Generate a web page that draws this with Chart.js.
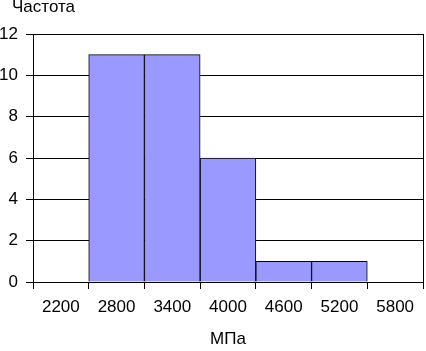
<!DOCTYPE html>
<html>
<head>
<meta charset="utf-8">
<script src="https://cdn.jsdelivr.net/npm/chart.js@4"></script>
<style>
  html, body { margin: 0; padding: 0; background: #fff; }
  #wrap { width: 426px; height: 351px; }
</style>
</head>
<body>
<div id="wrap"><canvas id="hist"></canvas></div>
<script>
const binLabels = ['2200', '2800', '3400', '4000', '4600', '5200', '5800'];
const freqs = [0, 11, 11, 6, 1, 1, 0];
const yTicks = [0, 2, 4, 6, 8, 10, 12];
const yTitle = 'Частота';
const xTitle = 'МПа';

const FONT = 'Liberation Sans, Arial, sans-serif';

// draws "Частота" at the top left and the right border of the plot area
const extras = {
    id: 'extras',
    afterDraw(chart) {
        const c = chart.ctx;
        const a = chart.chartArea;
        c.save();
        c.strokeStyle = '#000';
        c.lineWidth = 1;
        c.beginPath();
        c.moveTo(Math.round(a.right) + 0.5, a.top);
        c.lineTo(Math.round(a.right) + 0.5, a.bottom);
        c.stroke();
        c.fillStyle = '#000';
        c.font = '17px ' + FONT;
        c.textBaseline = 'alphabetic';
        c.fillText(yTitle, 12, 12);
        c.restore();
    }
};

document.addEventListener('DOMContentLoaded', function() {
    const ctx = document.getElementById('hist').getContext('2d');
    new Chart(ctx, {
        type: 'bar',
        data: {
            labels: binLabels,
            datasets: [{
                data: freqs,
                backgroundColor: '#9999FF',
                borderColor: '#000',
                borderWidth: 1,
                barPercentage: 1,
                categoryPercentage: 1
            }]
        },
        options: {
            responsive: true,
            maintainAspectRatio: false,
            animation: false,
            layout: { padding: { top: 34, right: 3, left: 0, bottom: 0 } },
            plugins: { legend: { display: false }, tooltip: { enabled: false } },
            scales: {
                x: {
                    offset: true,
                    grid: {
                        offset: true,
                        drawOnChartArea: false,
                        color: '#000',
                        tickLength: 7,
                        tickColor: '#000'
                    },
                    border: { color: '#000' },
                    ticks: { color: '#000', font: { family: FONT, size: 17 }, padding: 8, maxRotation: 0 },
                    title: { display: true, text: xTitle, color: '#000', font: { family: FONT, size: 17 }, padding: { top: 0, bottom: 1 } },
                    afterFit(scale) { scale.height = 69; }
                },
                y: {
                    min: 0,
                    max: 12,
                    afterBuildTicks(scale) { scale.ticks = yTicks.map(v => ({ value: v })); },
                    grid: { color: '#000', tickLength: 7, tickColor: '#000' },
                    border: { color: '#000' },
                    ticks: { color: '#000', font: { family: FONT, size: 17 }, padding: 8 },
                    afterFit(scale) { scale.width = 33; }
                }
            }
        },
        plugins: [extras]
    });
});
</script>
</body>
</html>
